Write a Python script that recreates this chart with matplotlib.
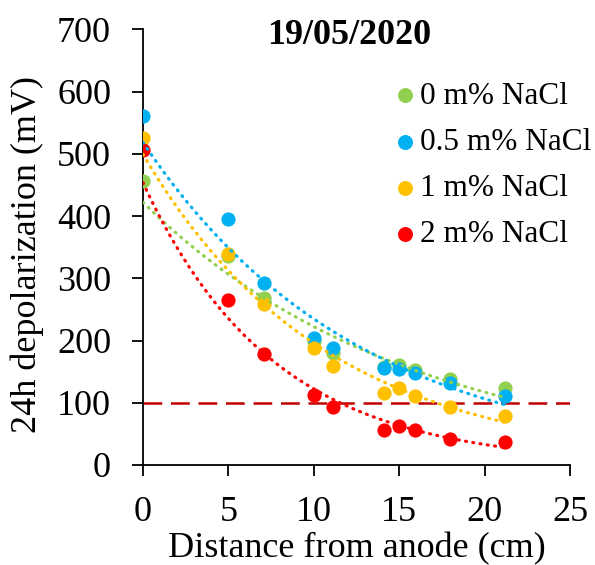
import numpy as np
import matplotlib
matplotlib.use('Agg')
import matplotlib.pyplot as plt

plt.rcParams['font.family'] = ['Liberation Serif', 'DejaVu Serif']

# distance from anode (cm)
dist = [0, 5, 7.1, 10, 11.1, 14.1, 15, 15.9, 18, 21.2]

# 24h depolarization (mV)
nacl_0 = [456, 336, 268, 200, 180, 157, 160, 152, 138, 124]
nacl_05 = [560, 395, 292, 204, 188, 156, 154, 148, 131, 111]
nacl_1 = [525, 339, 258, 188, 159, 116, 124, 111, 93, 79]
nacl_2 = [506, 265, 178, 112, 93, 56, 63, 56, 42, 37]

labels = ['0 m% NaCl', '0.5 m% NaCl', '1 m% NaCl', '2 m% NaCl']
colors = ['#92D050', '#00B0F0', '#FFC000', '#FF0000']
threshold = 100

fig = plt.figure(figsize=(5.95, 5.65), dpi=100)
ax = fig.add_axes([0.2403, 0.177, 0.7176, 0.7712])

x = np.array(dist)
xs = np.linspace(0, max(dist), 200)
series = [nacl_0, nacl_05, nacl_1, nacl_2]

for vals, c, lab in zip(series, colors, labels):
    ax.scatter(x, vals, s=105, color=c, label=lab, zorder=3, linewidths=0)

# exponential trendlines (fit in log space, like Excel)
for vals, c in zip(series, colors):
    b, a = np.polyfit(x, np.log(vals), 1)
    ax.plot(xs, np.exp(a) * np.exp(b * xs), color=c, lw=2.3,
            linestyle=(0, (0.3, 2.0)), dash_capstyle='round', zorder=4)

ax.axhline(threshold, color='#C00000', lw=1.8, dashes=(7.5, 3.5), zorder=2)

ax.set_xlim(0, 25)
ax.set_ylim(0, 700)
ax.set_xticks(range(0, 26, 5))
ax.set_yticks(range(0, 701, 100))
for s in ['top', 'right']:
    ax.spines[s].set_visible(False)
for s in ['left', 'bottom']:
    ax.spines[s].set_linewidth(1.3)
ax.tick_params(axis='both', labelsize=26, length=8, width=1.3, direction='out')
ax.tick_params(axis='x', pad=14)
ax.tick_params(axis='y', pad=15)

ax.set_xlabel('Distance from anode (cm)', fontsize=26)
ax.set_ylabel('24h depolarization (mV)', fontsize=26)
ax.xaxis.set_label_coords(0.5, -0.155)
ax.yaxis.set_label_coords(-0.232, 0.482)

ax.text(0.482, 0.985, '19/05/2020', transform=ax.transAxes, ha='center',
        va='center', fontsize=26, fontweight='bold')

ax.legend(loc='upper left', bbox_to_anchor=(0.591, 0.88), frameon=False,
          fontsize=22.5, handlelength=0.6, handletextpad=0.2, labelspacing=0.55,
          borderpad=0, borderaxespad=0, markerscale=1.05)

fig.savefig('out.png', dpi=100)
